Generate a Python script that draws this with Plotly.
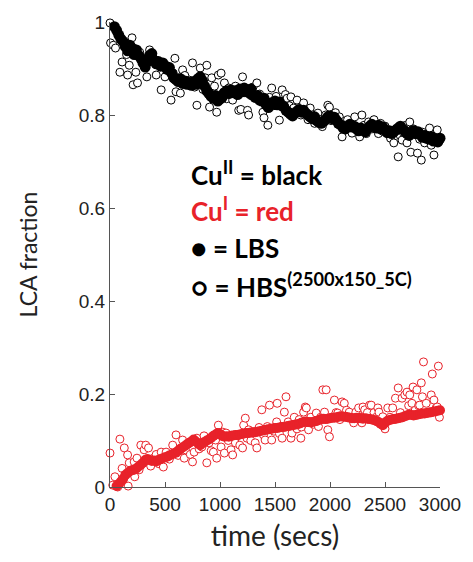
import plotly.graph_objects as go

# ---------------- data ----------------
# Cu(II) LBS (filled black)
t_cu2_lbs = [40, 60, 80, 100, 120, 140, 160, 180, 200, 220, 240, 260, 280, 300, 320, 340, 360, 380, 400, 420,
             440, 460, 480, 500, 520, 540, 560, 580, 600, 620, 640, 660, 680, 700, 720, 740, 760, 780, 800, 820,
             840, 860, 880, 900, 920, 940, 960, 980, 1000, 1020, 1040, 1060, 1080, 1100, 1120, 1140, 1160, 1180, 1200, 1220,
             1240, 1260, 1280, 1300, 1320, 1340, 1360, 1380, 1400, 1420, 1440, 1460, 1480, 1500, 1520, 1540, 1560, 1580, 1600, 1620,
             1640, 1660, 1680, 1700, 1720, 1740, 1760, 1780, 1800, 1820, 1840, 1860, 1880, 1900, 1920, 1940, 1960, 1980, 2000, 2020,
             2040, 2060, 2080, 2100, 2120, 2140, 2160, 2180, 2200, 2220, 2240, 2260, 2280, 2300, 2320, 2340, 2360, 2380, 2400, 2420,
             2440, 2460, 2480, 2500, 2520, 2540, 2560, 2580, 2600, 2620, 2640, 2660, 2680, 2700, 2720, 2740, 2760, 2780, 2800, 2820,
             2840, 2860, 2880, 2900, 2920, 2940, 2960, 2980, 3000]
y_cu2_lbs = [0.990, 0.982, 0.972, 0.963, 0.958, 0.947, 0.938, 0.950, 0.944, 0.930, 0.940, 0.928, 0.922, 0.912, 0.903, 0.915, 0.928, 0.932, 0.918, 0.910,
             0.915, 0.905, 0.912, 0.906, 0.898, 0.902, 0.890, 0.880, 0.876, 0.872, 0.878, 0.868, 0.873, 0.866, 0.870, 0.864, 0.872, 0.866, 0.878, 0.882,
             0.874, 0.862, 0.852, 0.846, 0.840, 0.836, 0.842, 0.830, 0.834, 0.838, 0.848, 0.852, 0.846, 0.854, 0.848, 0.852, 0.844, 0.856, 0.850, 0.858,
             0.852, 0.848, 0.856, 0.842, 0.838, 0.842, 0.832, 0.830, 0.836, 0.822, 0.816, 0.826, 0.824, 0.830, 0.822, 0.828, 0.820, 0.818, 0.810, 0.806,
             0.802, 0.798, 0.804, 0.808, 0.812, 0.806, 0.810, 0.804, 0.800, 0.796, 0.792, 0.796, 0.788, 0.784, 0.782, 0.786, 0.790, 0.796, 0.798, 0.792,
             0.795, 0.788, 0.782, 0.778, 0.772, 0.770, 0.776, 0.780, 0.774, 0.776, 0.770, 0.766, 0.772, 0.768, 0.764, 0.770, 0.776, 0.780, 0.776, 0.772,
             0.778, 0.770, 0.774, 0.768, 0.762, 0.766, 0.760, 0.764, 0.768, 0.772, 0.776, 0.770, 0.766, 0.760, 0.756, 0.762, 0.766, 0.760, 0.764, 0.758,
             0.752, 0.756, 0.750, 0.748, 0.754, 0.744, 0.748, 0.742, 0.750]

# Cu(II) HBS (open black)
t_cu2_hbs = [0, 5, 30, 50, 70, 90, 110, 130, 150, 160, 175, 200, 210, 235, 250, 270, 300, 335, 360, 390,
             420, 445, 465, 500, 520, 555, 575, 590, 600, 620, 640, 660, 680, 700, 720, 750, 770, 790, 810, 820,
             845, 865, 880, 905, 925, 950, 970, 985, 1010, 1030, 1040, 1060, 1080, 1100, 1115, 1140, 1170, 1190, 1205, 1225,
             1250, 1260, 1280, 1300, 1320, 1335, 1360, 1390, 1400, 1420, 1435, 1450, 1470, 1490, 1510, 1540, 1565, 1580, 1595, 1610,
             1630, 1645, 1670, 1700, 1720, 1735, 1760, 1780, 1800, 1820, 1840, 1860, 1890, 1910, 1930, 1960, 1980, 1995, 2010, 2025,
             2050, 2070, 2085, 2110, 2130, 2140, 2160, 2180, 2200, 2225, 2240, 2270, 2290, 2310, 2330, 2350, 2380, 2400, 2420, 2440,
             2460, 2480, 2500, 2525, 2550, 2580, 2600, 2620, 2640, 2655, 2665, 2690, 2700, 2725, 2735, 2760, 2790, 2795, 2815, 2830,
             2840, 2860, 2880, 2905, 2920, 2945, 2960, 2975, 2990]
y_cu2_hbs = [0.998, 0.955, 0.950, 0.944, 0.975, 0.892, 0.914, 0.948, 0.930, 0.886, 0.907, 0.966, 0.865, 0.892, 0.869, 0.935, 0.915, 0.882, 0.940, 0.925,
             0.886, 0.915, 0.854, 0.882, 0.905, 0.832, 0.890, 0.922, 0.850, 0.880, 0.847, 0.897, 0.885, 0.868, 0.875, 0.912, 0.860, 0.821, 0.870, 0.901,
             0.855, 0.880, 0.907, 0.817, 0.880, 0.862, 0.806, 0.886, 0.890, 0.848, 0.869, 0.835, 0.858, 0.845, 0.832, 0.862, 0.810, 0.812, 0.882, 0.848,
             0.810, 0.800, 0.842, 0.860, 0.836, 0.869, 0.845, 0.806, 0.794, 0.830, 0.778, 0.838, 0.858, 0.820, 0.840, 0.789, 0.854, 0.830, 0.844, 0.836,
             0.820, 0.839, 0.815, 0.832, 0.812, 0.800, 0.826, 0.808, 0.790, 0.815, 0.800, 0.782, 0.804, 0.790, 0.775, 0.800, 0.821, 0.817, 0.788, 0.794,
             0.805, 0.780, 0.796, 0.753, 0.786, 0.772, 0.790, 0.768, 0.761, 0.796, 0.775, 0.753, 0.800, 0.778, 0.760, 0.785, 0.770, 0.790, 0.774, 0.760,
             0.782, 0.765, 0.776, 0.763, 0.750, 0.740, 0.770, 0.710, 0.755, 0.746, 0.763, 0.778, 0.740, 0.785, 0.720, 0.770, 0.757, 0.718, 0.748, 0.703,
             0.763, 0.740, 0.758, 0.772, 0.735, 0.714, 0.752, 0.768, 0.745]

# Cu(I) LBS (filled red)
t_cu1_lbs = [60, 80, 100, 120, 140, 160, 180, 200, 220, 240, 260, 280, 300, 320, 340, 360, 380, 400, 420, 440,
             460, 480, 500, 520, 540, 560, 580, 600, 620, 640, 660, 680, 700, 720, 740, 760, 780, 800, 820, 840,
             860, 880, 900, 920, 940, 960, 980, 1000, 1020, 1040, 1060, 1080, 1100, 1120, 1140, 1160, 1180, 1200, 1220, 1240,
             1260, 1280, 1300, 1320, 1340, 1360, 1380, 1400, 1420, 1440, 1460, 1480, 1500, 1520, 1540, 1560, 1580, 1600, 1620, 1640,
             1660, 1680, 1700, 1720, 1740, 1760, 1780, 1800, 1820, 1840, 1860, 1880, 1900, 1920, 1940, 1960, 1980, 2000, 2020, 2040,
             2060, 2080, 2100, 2120, 2140, 2160, 2180, 2200, 2220, 2240, 2260, 2280, 2300, 2320, 2340, 2360, 2380, 2400, 2420, 2440,
             2460, 2480, 2500, 2520, 2540, 2560, 2580, 2600, 2620, 2640, 2660, 2680, 2700, 2720, 2740, 2760, 2780, 2800, 2820, 2840,
             2860, 2880, 2900, 2920, 2940, 2960, 2980, 3000]
y_cu1_lbs = [0.002, 0.006, 0.012, 0.018, 0.026, 0.030, 0.034, 0.036, 0.037, 0.040, 0.044, 0.048, 0.052, 0.058, 0.060, 0.058, 0.056, 0.057, 0.055, 0.058,
             0.060, 0.062, 0.064, 0.065, 0.068, 0.070, 0.072, 0.074, 0.078, 0.082, 0.085, 0.088, 0.092, 0.095, 0.098, 0.102, 0.098, 0.094, 0.090, 0.094,
             0.097, 0.100, 0.102, 0.106, 0.110, 0.113, 0.116, 0.114, 0.110, 0.108, 0.109, 0.108, 0.110, 0.111, 0.112, 0.112, 0.113, 0.114, 0.115, 0.116,
             0.116, 0.117, 0.118, 0.118, 0.119, 0.120, 0.121, 0.122, 0.123, 0.124, 0.125, 0.126, 0.127, 0.127, 0.128, 0.129, 0.129, 0.130, 0.131, 0.132,
             0.133, 0.134, 0.135, 0.136, 0.138, 0.140, 0.141, 0.140, 0.139, 0.140, 0.141, 0.142, 0.144, 0.146, 0.147, 0.146, 0.147, 0.148, 0.149, 0.149,
             0.150, 0.151, 0.152, 0.151, 0.151, 0.150, 0.149, 0.148, 0.148, 0.149, 0.148, 0.148, 0.147, 0.148, 0.147, 0.146, 0.145, 0.144, 0.142, 0.140,
             0.136, 0.133, 0.138, 0.142, 0.144, 0.145, 0.146, 0.147, 0.148, 0.149, 0.150, 0.152, 0.154, 0.156, 0.155, 0.154, 0.155, 0.156, 0.157, 0.158,
             0.158, 0.159, 0.160, 0.161, 0.162, 0.163, 0.164, 0.165]

# Cu(I) HBS (open red)
t_cu1_hbs = [0, 25, 45, 70, 90, 110, 130, 160, 165, 175, 200, 220, 225, 245, 265, 280, 310, 325, 350, 370,
             395, 420, 445, 465, 485, 510, 540, 570, 600, 620, 640, 660, 675, 685, 710, 730, 750, 765, 790, 810,
             835, 855, 880, 900, 920, 940, 960, 970, 985, 995, 1010, 1025, 1040, 1055, 1075, 1100, 1115, 1140, 1160, 1180,
             1205, 1215, 1230, 1245, 1260, 1280, 1300, 1320, 1335, 1355, 1380, 1395, 1410, 1430, 1450, 1470, 1490, 1515, 1520, 1540,
             1565, 1585, 1600, 1620, 1645, 1655, 1675, 1700, 1720, 1735, 1740, 1760, 1775, 1785, 1805, 1825, 1850, 1875, 1895, 1915,
             1935, 1950, 1965, 1980, 1995, 2015, 2040, 2055, 2070, 2090, 2110, 2130, 2150, 2175, 2195, 2215, 2235, 2260, 2275, 2290,
             2300, 2315, 2340, 2360, 2375, 2400, 2420, 2435, 2445, 2460, 2480, 2500, 2525, 2545, 2570, 2595, 2620, 2640, 2655, 2680,
             2700, 2715, 2725, 2745, 2755, 2775, 2790, 2805, 2815, 2830, 2840, 2850, 2875, 2895, 2920, 2930, 2945, 2965, 2975, 2985,
             2995]
y_cu1_hbs = [0.073, 0.004, 0.022, 0.000, 0.103, 0.040, 0.084, 0.069, 0.002, 0.052, 0.030, 0.054, 0.022, 0.062, 0.037, 0.090, 0.080, 0.090, 0.084, 0.045,
             0.062, 0.070, 0.050, 0.075, 0.043, 0.075, 0.060, 0.090, 0.112, 0.068, 0.080, 0.101, 0.062, 0.080, 0.092, 0.070, 0.054, 0.075, 0.105, 0.082,
             0.086, 0.110, 0.052, 0.095, 0.078, 0.075, 0.101, 0.062, 0.133, 0.116, 0.086, 0.118, 0.073, 0.116, 0.100, 0.080, 0.069, 0.095, 0.110, 0.090,
             0.084, 0.133, 0.148, 0.105, 0.123, 0.100, 0.118, 0.095, 0.084, 0.128, 0.166, 0.112, 0.101, 0.130, 0.176, 0.101, 0.120, 0.140, 0.180, 0.115,
             0.105, 0.161, 0.194, 0.140, 0.105, 0.116, 0.150, 0.125, 0.145, 0.105, 0.129, 0.161, 0.172, 0.170, 0.123, 0.150, 0.135, 0.159, 0.130, 0.150,
             0.209, 0.161, 0.209, 0.123, 0.108, 0.150, 0.187, 0.160, 0.159, 0.145, 0.183, 0.180, 0.165, 0.161, 0.150, 0.138, 0.161, 0.170, 0.150, 0.138,
             0.172, 0.166, 0.160, 0.176, 0.176, 0.160, 0.150, 0.170, 0.161, 0.140, 0.151, 0.125, 0.170, 0.150, 0.170, 0.191, 0.213, 0.160, 0.191, 0.198,
             0.204, 0.175, 0.198, 0.180, 0.215, 0.165, 0.209, 0.175, 0.176, 0.224, 0.194, 0.269, 0.180, 0.160, 0.198, 0.243, 0.187, 0.170, 0.172, 0.260,
             0.150]

x_ticks = [0, 500, 1000, 1500, 2000, 2500, 3000]
y_ticks = [0, 0.2, 0.4, 0.6, 0.8, 1]
y_tick_text = ["0", "0.2", "0.4", "0.6", "0.8", "1"]

RED = "#e8222a"

legend_lines = [
    ("Cu<sup>II</sup> = black", "black", 0.675),
    ("Cu<sup>I</sup> = red", RED, 0.596),
    ("\u25CF = LBS", "black", 0.514),
    ("\u25CB = HBS<sup>(2500x150_5C)</sup>", "black", 0.434),
]

fig = go.Figure()
fig.add_trace(go.Scatter(x=t_cu2_hbs, y=y_cu2_hbs, mode="markers", cliponaxis=False,
                         marker=dict(symbol="circle", size=8, color="white", line=dict(color="black", width=1))))
fig.add_trace(go.Scatter(x=t_cu1_hbs, y=y_cu1_hbs, mode="markers", cliponaxis=False,
                         marker=dict(symbol="circle", size=8, color="white", line=dict(color=RED, width=1))))
fig.add_trace(go.Scatter(x=t_cu2_lbs, y=y_cu2_lbs, mode="markers", cliponaxis=False,
                         marker=dict(symbol="circle", size=11, color="black", line=dict(width=0))))
fig.add_trace(go.Scatter(x=t_cu1_lbs, y=y_cu1_lbs, mode="markers", cliponaxis=False,
                         marker=dict(symbol="circle", size=10, color=RED, line=dict(width=0))))

for txt, col, yy in legend_lines:
    fig.add_annotation(x=720, y=yy, xref="x", yref="y", text=txt, showarrow=False,
                       xanchor="left", yanchor="middle",
                       font=dict(family="Lato", size=26, color=col, weight="bold"))

axis_common = dict(showline=True, linecolor="#555555", linewidth=1, ticks="inside", ticklen=5,
                   tickcolor="#555555", showgrid=False, zeroline=False, mirror=False,
                   tickfont=dict(family="Liberation Sans", size=19, color="#222222"))

fig.update_xaxes(range=[0, 3000], tickvals=x_ticks, **axis_common,
                 title=dict(text="time (secs)", font=dict(family="Lato", size=28, color="#222222"), standoff=12))
fig.update_yaxes(range=[0, 1], tickvals=y_ticks, ticktext=y_tick_text, **axis_common,
                 title=dict(text="LCA fraction", font=dict(family="Lato", size=23, color="#222222"), standoff=34))

fig.update_layout(width=473, height=562, showlegend=False, plot_bgcolor="white", paper_bgcolor="white",
                  margin=dict(l=110, r=22, t=22, b=75))

fig.write_html("out.html")
